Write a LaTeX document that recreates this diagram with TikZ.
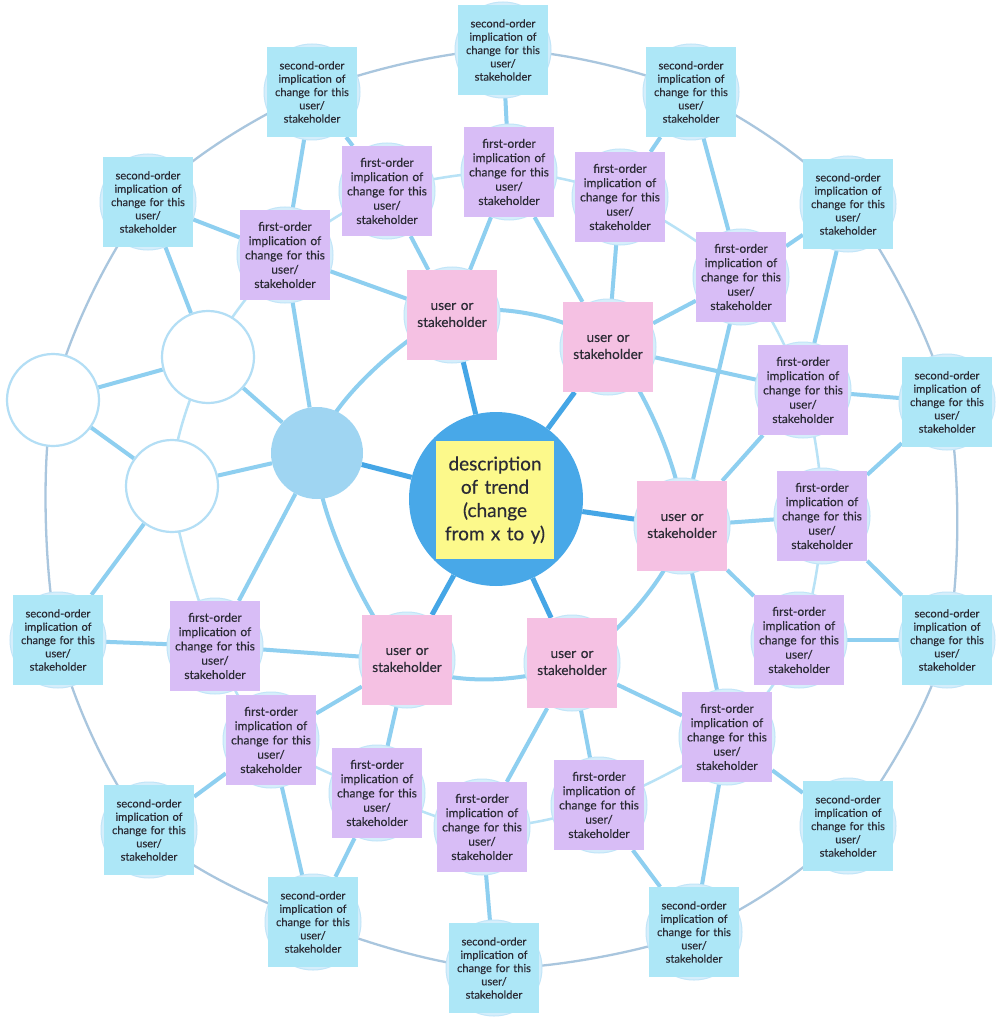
\documentclass[tikz,border=0pt]{standalone}
\usepackage{fontspec}
\setmainfont{Lato}[FakeBold=0.3]
\pgfdeclarelayer{bg}
\pgfdeclarelayer{mid}
\pgfsetlayers{bg,mid,main}
\definecolor{pinkc}{HTML}{F5C1E3}
\definecolor{purplec}{HTML}{D8BDF6}
\definecolor{cyanc}{HTML}{ADE7F7}
\definecolor{yellowc}{HTML}{FCF98B}
\definecolor{centerc}{HTML}{48A8E8}
\definecolor{filledc}{HTML}{9FD5F2}
\definecolor{clinec}{HTML}{45A6E6}
\definecolor{branchc}{HTML}{8ECFF0}
\definecolor{midc}{HTML}{B8E2F6}
\definecolor{outerc}{HTML}{A9C6DE}
\definecolor{peekc}{HTML}{C2E5F8}
\definecolor{peekfill}{HTML}{D6EEFB}
\definecolor{emptyc}{HTML}{B3DEF5}
\definecolor{textc}{HTML}{2B2B35}
\newcommand\FirstTxt{first-order\\implication of\\change for this\\user/\\stakeholder}
\newcommand\SecondTxt{second-order\\implication of\\change for this\\user/\\stakeholder}
\begin{document}
\begin{tikzpicture}[x=1pt,y=-1pt,
  note/.style={rectangle, minimum width=90pt, minimum height=90pt, inner sep=0pt,
    text width=88pt, align=center, text=textc},
  usernote/.style={note, fill=pinkc, font=\fontsize{13.6}{17}\selectfont},
  firstnote/.style={note, fill=purplec, font=\fontsize{12}{14.3}\selectfont},
  secondnote/.style={note, fill=cyanc, font=\fontsize{11.1}{13.3}\selectfont},
  yellownote/.style={rectangle, minimum width=118pt, minimum height=118pt, inner sep=0pt,
    text width=114pt, align=center, fill=yellowc, text=textc, font=\fontsize{19}{23.3}\selectfont},
  bigcirc/.style={circle, minimum size=174pt, inner sep=0pt, fill=centerc},
  fillcirc/.style={circle, minimum size=92pt, inner sep=0pt, fill=filledc},
  emptycirc/.style={circle, minimum size=92pt, inner sep=0pt, fill=white, draw=emptyc, line width=2.2pt},
  peek/.style={draw=peekc, fill=peekfill, line width=1pt},
  centerline/.style={draw=clinec, line width=5pt},
  branch/.style={draw=branchc, line width=4pt},
  innerring/.style={draw=branchc, line width=4pt},
  midring/.style={draw=midc, line width=2.5pt},
  outerring/.style={draw=outerc, line width=2.3pt}
]
\useasboundingbox (0,0) rectangle (1000,1024);
% central elements
\node[bigcirc] (C) at (496,499) {};
\node[yellownote] (T) at (495,500) {description\\of trend\\(change\\from x to y)};
% unlabeled branch
\node[fillcirc] (FC) at (317,453) {};
\node[emptycirc] (TE) at (208,357) {};
\node[emptycirc] (BE) at (172,486) {};
\node[emptycirc] (LE) at (53,400) {};
% users
\node[usernote] (U1) at (452,315) {user or\\stakeholder};
\node[usernote] (U2) at (608,347) {user or\\stakeholder};
\node[usernote] (U3) at (682,526) {user or\\stakeholder};
\node[usernote] (U4) at (407,660) {user or\\stakeholder};
\node[usernote] (U5) at (572,663) {user or\\stakeholder};
% first-order
\node[firstnote] (F1) at (285,255) {\FirstTxt};
\node[firstnote] (F2) at (387,191) {\FirstTxt};
\node[firstnote] (F3) at (509,172) {\FirstTxt};
\node[firstnote] (F4) at (620,197) {\FirstTxt};
\node[firstnote] (F5) at (741,277) {\FirstTxt};
\node[firstnote] (F6) at (803,390) {\FirstTxt};
\node[firstnote] (F7) at (822,516) {\FirstTxt};
\node[firstnote] (F8) at (799,640) {\FirstTxt};
\node[firstnote] (F9) at (727,737) {\FirstTxt};
\node[firstnote] (F10) at (599,805) {\FirstTxt};
\node[firstnote] (F11) at (482,827) {\FirstTxt};
\node[firstnote] (F12) at (377,793) {\FirstTxt};
\node[firstnote] (F13) at (271,740) {\FirstTxt};
\node[firstnote] (F14) at (215,646) {\FirstTxt};
% second-order
\node[secondnote] (S1) at (148,202) {\SecondTxt};
\node[secondnote] (S2) at (312,92) {\SecondTxt};
\node[secondnote] (S3) at (503,50) {\SecondTxt};
\node[secondnote] (S4) at (691,92) {\SecondTxt};
\node[secondnote] (S5) at (848,204) {\SecondTxt};
\node[secondnote] (S6) at (947,402) {\SecondTxt};
\node[secondnote] (S7) at (947,640) {\SecondTxt};
\node[secondnote] (S8) at (848,826) {\SecondTxt};
\node[secondnote] (S9) at (694,932) {\SecondTxt};
\node[secondnote] (S10) at (494,968) {\SecondTxt};
\node[secondnote] (S11) at (313,922) {\SecondTxt};
\node[secondnote] (S12) at (149,830) {\SecondTxt};
\node[secondnote] (S13) at (58,640) {\SecondTxt};
% circles peeking behind the notes
\begin{pgfonlayer}{mid}
  \foreach \n in {U1,U2,U3,U4,U5,F1,F2,F3,F4,F5,F6,F7,F8,F9,F10,F11,F12,F13,F14,S1,S2,S3,S4,S5,S6,S7,S8,S9,S10,S11,S12,S13}
    \draw[peek] (\n.center) circle (48pt);
\end{pgfonlayer}
% connectors
\begin{pgfonlayer}{bg}
  \fill[white] (0,0) rectangle (1000,1024);
  \draw[outerring] plot[smooth cycle] coordinates {(LE.center) (S1.center) (S2.center) (S3.center) (S4.center) (S5.center) (S6.center) (S7.center) (S8.center) (S9.center) (S10.center) (S11.center) (S12.center) (S13.center)};
  \draw[midring] plot[smooth cycle] coordinates {(TE.center) (F1.center) (F2.center) (F3.center) (F4.center) (F5.center) (F6.center) (F7.center) (F8.center) (F9.center) (F10.center) (F11.center) (F12.center) (F13.center) (F14.center) (BE.center)};
  \foreach \a/\b in {FC/TE, FC/BE, FC/F1, FC/F14, TE/S1, TE/LE, BE/LE, BE/S13,
     U1/F1, U1/F2, U1/F3, U2/F3, U2/F4, U2/F5, U2/F6,
     U3/F5, U3/F6, U3/F7, U3/F8, U3/F9, U5/F9, U5/F10, U5/F11,
     U4/F12, U4/F13, U4/F14,
     F1/S1, F1/S2, F2/S2, F3/S3, F4/S4, F5/S4, F5/S5, F6/S5, F6/S6, F7/S6, F7/S7,
     F8/S7, F9/S8, F9/S9, F10/S9, F11/S10, F12/S11, F13/S11, F13/S12, F14/S13}
    \draw[branch] (\a) -- (\b);
  \draw[innerring] plot[smooth cycle] coordinates {(FC.center) (U1.center) (U2.center) (U3.center) (U5.center) (U4.center)};
  \foreach \u in {FC,U1,U2,U3,U4,U5}
    \draw[centerline] (C) -- (\u);
\end{pgfonlayer}
\end{tikzpicture}
\end{document}
